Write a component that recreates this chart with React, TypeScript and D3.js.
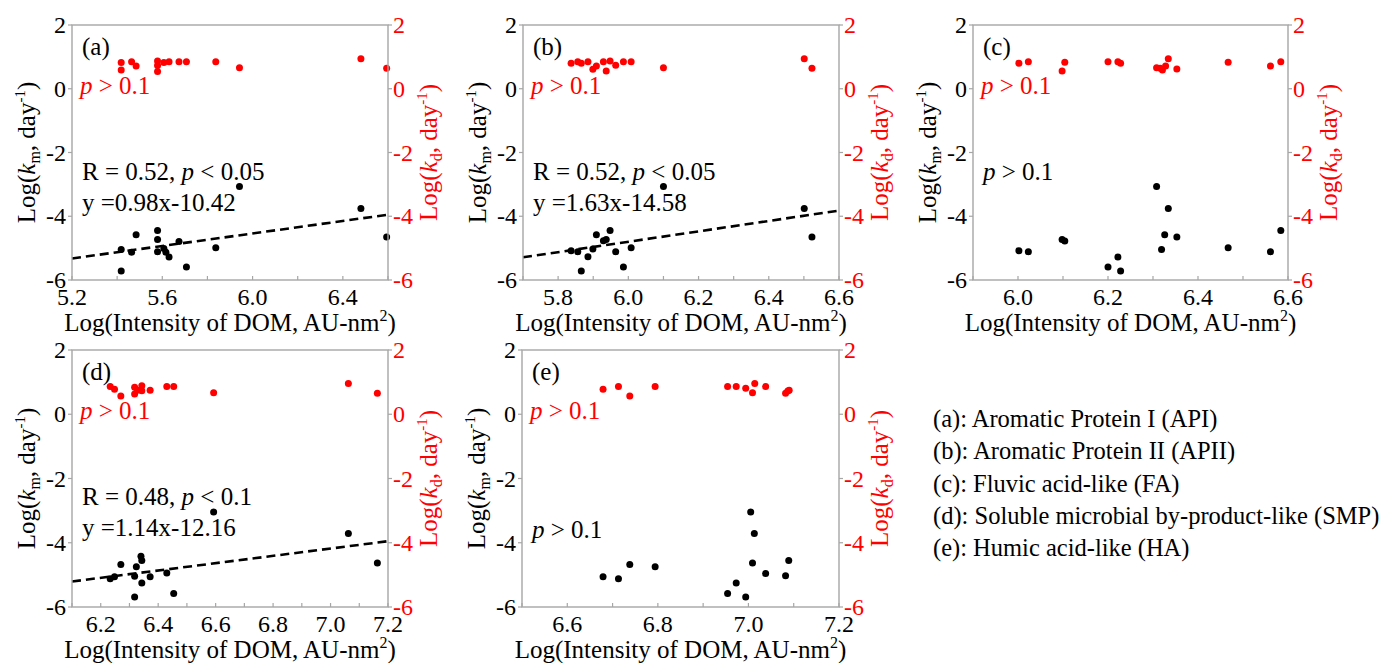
import React from 'react';
import * as d3 from 'd3';

// values: x = Log(intensity of DOM), km / kd = Log(rate, day-1)

// (a) Aromatic Protein I
const apiKmX = [5.418, 5.418, 5.464, 5.484, 5.579, 5.579, 5.579, 5.607, 5.616, 5.63, 5.674, 5.707, 5.837, 5.942, 6.48, 6.594];
const apiKm = [-5.72, -5.04, -5.13, -4.58, -4.45, -4.73, -5.11, -5.01, -5.13, -5.28, -4.79, -5.59, -4.99, -3.07, -3.76, -4.65];
const apiKdX = [5.418, 5.418, 5.464, 5.484, 5.579, 5.579, 5.579, 5.607, 5.63, 5.674, 5.707, 5.837, 5.942, 6.48, 6.594];
const apiKd = [0.82, 0.59, 0.85, 0.71, 0.87, 0.73, 0.54, 0.82, 0.85, 0.85, 0.85, 0.85, 0.66, 0.94, 0.64];

// (b) Aromatic Protein II
const apiiKmX = [5.837, 5.856, 5.866, 5.885, 5.899, 5.909, 5.929, 5.937, 5.948, 5.964, 5.986, 6.008, 6.1, 6.501, 6.523];
const apiiKm = [-5.08, -5.11, -5.72, -5.27, -5.03, -4.58, -4.77, -4.73, -4.45, -5.11, -5.59, -4.99, -3.07, -3.76, -4.65];
const apiiKdX = [5.837, 5.856, 5.866, 5.885, 5.899, 5.909, 5.929, 5.937, 5.948, 5.964, 5.986, 6.008, 6.1, 6.501, 6.523];
const apiiKd = [0.8, 0.85, 0.8, 0.85, 0.61, 0.71, 0.85, 0.56, 0.87, 0.74, 0.85, 0.85, 0.66, 0.94, 0.64];

// (c) Fulvic acid-like
const faKmX = [6.002, 6.023, 6.098, 6.104, 6.2, 6.222, 6.228, 6.308, 6.319, 6.326, 6.334, 6.353, 6.467, 6.561, 6.584];
const faKm = [-5.08, -5.11, -4.73, -4.78, -5.59, -5.28, -5.72, -3.07, -5.04, -4.58, -3.76, -4.65, -4.99, -5.11, -4.45];
const faKdX = [6.002, 6.023, 6.098, 6.104, 6.2, 6.222, 6.228, 6.308, 6.316, 6.321, 6.328, 6.334, 6.353, 6.467, 6.561, 6.584];
const faKd = [0.8, 0.85, 0.56, 0.83, 0.85, 0.85, 0.8, 0.66, 0.64, 0.59, 0.71, 0.94, 0.62, 0.83, 0.71, 0.85];

// (d) Soluble microbial by-product-like
const smpKmX = [6.233, 6.248, 6.27, 6.318, 6.318, 6.324, 6.34, 6.343, 6.343, 6.372, 6.43, 6.454, 6.593, 7.062, 7.163];
const smpKm = [-5.12, -5.06, -4.68, -5.69, -5.04, -4.75, -4.42, -4.55, -5.25, -5.06, -4.94, -5.58, -3.04, -3.71, -4.63];
const smpKdX = [6.233, 6.248, 6.27, 6.318, 6.318, 6.328, 6.343, 6.343, 6.372, 6.43, 6.454, 6.593, 7.062, 7.163];
const smpKd = [0.86, 0.78, 0.57, 0.84, 0.63, 0.75, 0.89, 0.73, 0.75, 0.86, 0.86, 0.67, 0.96, 0.65];

// (e) Humic acid-like
const haKmX = [6.679, 6.713, 6.738, 6.794, 6.954, 6.973, 6.994, 7.005, 7.013, 7.009, 7.038, 7.082, 7.089];
const haKm = [-5.06, -5.12, -4.68, -4.75, -5.58, -5.25, -5.69, -3.04, -3.71, -4.63, -4.96, -5.03, -4.55];
const haKdX = [6.679, 6.713, 6.738, 6.794, 6.954, 6.973, 6.994, 7.009, 7.014, 7.038, 7.082, 7.087, 7.09];
const haKd = [0.78, 0.86, 0.57, 0.86, 0.86, 0.86, 0.81, 0.67, 0.96, 0.86, 0.65, 0.72, 0.75];

const yTickValues = [2, 0, -2, -4, -6];
const legendLines = [
  '(a): Aromatic Protein I (API)',
  '(b): Aromatic Protein II (APII)',
  '(c): Fluvic acid-like (FA)',
  '(d): Soluble microbial by-product-like (SMP)',
  '(e): Humic acid-like (HA)',
];

const RED = '#ff0000';
const FRAME = '#a6a6a6';
const FONT = "'Liberation Serif', 'DejaVu Serif', serif";

const panels = [
  { id: '(a)', kmX: apiKmX, km: apiKm, kdX: apiKdX, kd: apiKd, domain: [5.2, 6.6], labels: [5.2, 5.6, 6.0, 6.4], minor: 0.2,
    x0: 72, x1: 388, y0: 25, y1: 280, fit: { slope: 0.98, icpt: -10.42, r: '0.52', p: '0.05', eq: 'y =0.98x-10.42' } },
  { id: '(b)', kmX: apiiKmX, km: apiiKm, kdX: apiiKdX, kd: apiiKd, domain: [5.7, 6.6], labels: [5.8, 6.0, 6.2, 6.4, 6.6], minor: 0.1,
    x0: 523, x1: 839, y0: 25, y1: 280, fit: { slope: 1.63, icpt: -14.58, r: '0.52', p: '0.05', eq: 'y =1.63x-14.58' } },
  { id: '(c)', kmX: faKmX, km: faKm, kdX: faKdX, kd: faKd, domain: [5.9, 6.6], labels: [6.0, 6.2, 6.4, 6.6], minor: 0.1,
    x0: 973, x1: 1288, y0: 25, y1: 280, fit: null, pBlackY: 155 },
  { id: '(d)', kmX: smpKmX, km: smpKm, kdX: smpKdX, kd: smpKd, domain: [6.1, 7.2], labels: [6.2, 6.4, 6.6, 6.8, 7.0, 7.2], minor: 0.1,
    x0: 72, x1: 388, y0: 350, y1: 607, fit: { slope: 1.14, icpt: -12.16, r: '0.48', p: '0.1', eq: 'y =1.14x-12.16' } },
  { id: '(e)', kmX: haKmX, km: haKm, kdX: haKdX, kd: haKd, domain: [6.5, 7.2], labels: [6.6, 6.8, 7.0, 7.2], minor: 0.1,
    x0: 522, x1: 839, y0: 350, y1: 607, fit: null, pBlackY: 188 },
];

type P = typeof panels[number];

function YLabel({ x, y, sub, color }: { x: number; y: number; sub: string; color: string }) {
  return (
    <text transform={`translate(${x},${y}) rotate(-90)`} textAnchor="middle" fontSize={25} fill={color}>
      Log(<tspan fontStyle="italic">k</tspan>
      <tspan fontSize={16} dy={5}>{sub}</tspan>
      <tspan dy={-5}>, day</tspan>
      <tspan fontSize={15} dy={-10}>-1</tspan>
      <tspan dy={10}>)</tspan>
    </text>
  );
}

function Panel({ p }: { p: P }) {
  const x = d3.scaleLinear().domain(p.domain).range([p.x0, p.x1]);
  const y = d3.scaleLinear().domain([-6, 2]).range([p.y1, p.y0]);
  const minorTicks = d3.range(p.domain[0], p.domain[1] + 1e-6, p.minor);
  const fitLine = p.fit
    ? d3.line<number>().x(v => x(v)).y(v => y(p.fit!.slope * v + p.fit!.icpt))(p.domain)
    : null;
  const cx = (p.x0 + p.x1) / 2;
  const cy = (p.y0 + p.y1) / 2;
  return (
    <g>
      {fitLine && <path d={fitLine} fill="none" stroke="#000" strokeWidth={2.6} strokeDasharray="9,5" />}
      {p.kdX.map((v, i) => (
        <circle key={'r' + i} cx={x(v)} cy={y(p.kd[i])} r={3.5} fill={RED} />
      ))}
      {p.kmX.map((v, i) => (
        <circle key={'k' + i} cx={x(v)} cy={y(p.km[i])} r={3.5} fill="#000" />
      ))}
      <rect x={p.x0} y={p.y0} width={p.x1 - p.x0} height={p.y1 - p.y0} fill="none" stroke={FRAME} strokeWidth={1.4} />
      {minorTicks.map((v, i) => (
        <line key={'m' + i} x1={x(v)} x2={x(v)} y1={p.y1} y2={p.y1 - 4} stroke={FRAME} strokeWidth={1.2} />
      ))}
      {p.labels.map(v => (
        <text key={'xl' + v} x={x(v)} y={p.y1 + 25} textAnchor="middle" fontSize={24}>{d3.format('.1f')(v)}</text>
      ))}
      {yTickValues.map(v => (
        <g key={'y' + v}>
          <line x1={p.x0 - 4} x2={p.x0} y1={y(v)} y2={y(v)} stroke={FRAME} strokeWidth={1.2} />
          <line x1={p.x1} x2={p.x1 + 4} y1={y(v)} y2={y(v)} stroke={FRAME} strokeWidth={1.2} />
          <text x={p.x0 - 6} y={y(v) + 8} textAnchor="end" fontSize={24}>{v}</text>
          <text x={p.x1 + 5} y={y(v) + 8} fontSize={24} fill={RED}>{v}</text>
        </g>
      ))}
      <text x={cx} y={p.y1 + 51} textAnchor="middle" fontSize={25}>
        Log(Intensity of DOM, AU-nm<tspan fontSize={16} dy={-10}>2</tspan><tspan dy={10}>)</tspan>
      </text>
      <YLabel x={p.x0 - 37} y={cy} sub="m" color="#000" />
      <YLabel x={p.x1 + 49} y={cy} sub="d" color={RED} />
      <text x={p.x0 + 10} y={p.y0 + 30} fontSize={25}>{p.id}</text>
      <text x={p.x0 + 8} y={p.y0 + 69} fontSize={25} fill={RED}>
        <tspan fontStyle="italic">p</tspan> &gt; 0.1
      </text>
      {p.fit ? (
        <g fontSize={25}>
          <text x={p.x0 + 10} y={p.y0 + 155}>
            R = {p.fit.r}, <tspan fontStyle="italic">p</tspan> &lt; {p.fit.p}
          </text>
          <text x={p.x0 + 10} y={p.y0 + 186}>{p.fit.eq}</text>
        </g>
      ) : (
        <text x={p.x0 + 10} y={p.y0 + (p.pBlackY ?? 155)} fontSize={25}>
          <tspan fontStyle="italic">p</tspan> &gt; 0.1
        </text>
      )}
    </g>
  );
}

export default function App() {
  return (
    <svg width={1386} height={663} style={{ display: 'block', position: 'absolute', left: 0, top: 0, fontFamily: FONT }}>
      <rect width={1386} height={663} fill="#fff" />
      {panels.map(p => <Panel key={p.id} p={p} />)}
      <g fontSize={24.5}>
        {legendLines.map((t, i) => (
          <text key={t} x={933} y={427 + i * 32.3}>{t}</text>
        ))}
      </g>
    </svg>
  );
}
